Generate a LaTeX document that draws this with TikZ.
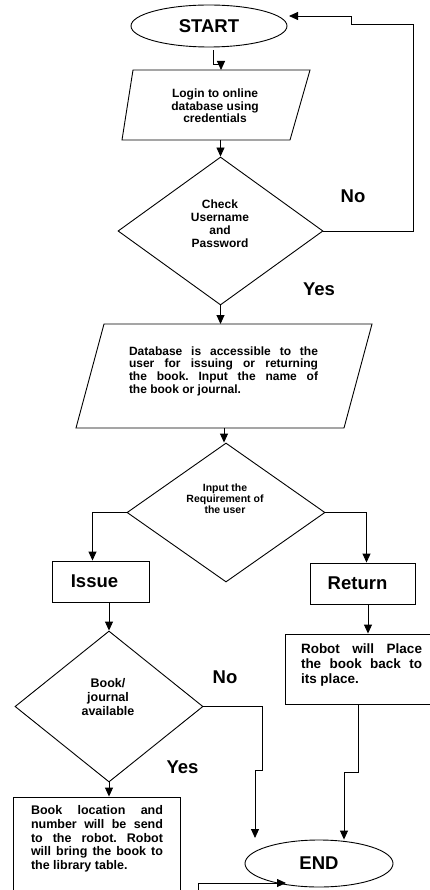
\documentclass[tikz,border=0pt]{standalone}
\usepackage{fontspec}
\setmainfont{Liberation Sans}
\usetikzlibrary{shapes.geometric,arrows.meta,calc}
\frenchspacing
\begin{document}
\begin{tikzpicture}[x=1pt,y=-1pt,
  line width=0.9pt,
  arr/.style={-{Triangle[length=9pt,width=8pt]}},
  term/.style={draw,ellipse,inner sep=0pt,font=\fontsize{18.5}{20}\selectfont\bfseries},
  dia/.style={draw,diamond,inner sep=0pt},
  box/.style={draw,rectangle,inner sep=0pt},
  big/.style={font=\fontsize{18.5}{20}\selectfont\bfseries},
  txt/.style={align=center,inner sep=0pt},
]
\path[use as bounding box,clip] (0,0) rectangle (430,890);

% nodes
\node[term,minimum width=156pt,minimum height=42pt] (start) at (209,26) {START};
\draw (133,70) -- (310,70) -- (290,140) -- (122,140) -- cycle;
\coordinate (loginN) at (221,70);
\coordinate (loginS) at (220.5,140);
\node[txt,font=\fontsize{12}{12.5}\selectfont\bfseries] (loginT) at (215,106) {Login to online\\database using\\credentials};
\node[dia,minimum width=205pt,minimum height=148pt] (check) at (220.5,231) {};
\node[txt,font=\fontsize{12}{13}\selectfont\bfseries] (checkT) at (220,224) {Check\\Username\\and\\Password};
\draw (104,324) -- (372,324) -- (344,428) -- (76,428) -- cycle;
\coordinate (dbN) at (220.5,324);
\coordinate (dbS) at (224,428);
\node[inner sep=0pt,text width=189pt,align=justify,font=\fontsize{12}{12.7}\selectfont\bfseries] (dbT) at (223.5,371)
  {Database is accessible to the\linebreak user for issuing or returning\linebreak the book. Input the name of\linebreak the book or journal.};
\node[dia,minimum width=198pt,minimum height=139pt] (req) at (226,512.5) {};
\node[txt,font=\fontsize{10.5}{11}\selectfont\bfseries] (reqT) at (225,499) {Input the\\Requirement of\\the user};
\node[box,big,minimum width=97pt,minimum height=41pt] (issue) at (100.5,581.5) {\hspace{-12pt}Issue};
\node[box,big,minimum width=105pt,minimum height=41pt] (ret) at (362.5,583.5) {\hspace{-10pt}Return};
\node[dia,minimum width=188pt,minimum height=151pt] (book) at (109,706.5) {};
\node[txt,font=\fontsize{12.5}{14}\selectfont\bfseries] (bookT) at (108,697) {Book/\\journal\\available};
\node[box,minimum width=147pt,minimum height=70pt] (robot) at (358.5,669) {};
\node[inner sep=0pt,text width=121pt,align=justify,font=\fontsize{13.5}{15}\selectfont\bfseries] (robotT) at (361.5,665)
  {Robot will Place\linebreak the book back to\linebreak its place.};
\node[box,minimum width=167pt,minimum height=106pt] (loc) at (96.5,850) {};
\node[inner sep=0pt,text width=132pt,align=justify,font=\fontsize{12.5}{13.7}\selectfont\bfseries] (locT) at (97,839)
  {Book location and\linebreak number will be send\linebreak to the robot. Robot\linebreak will bring the book to\linebreak the library table.};
\node[term,minimum width=148pt,minimum height=47pt] (end) at (319,863.5) {END};

% labels
\node[big,inner sep=0pt] (no1) at (353,196.5) {No};
\node[big,inner sep=0pt] (yes1) at (319,289) {Yes};
\node[big,inner sep=0pt] (no2) at (225,677.5) {No};
\node[big,inner sep=0pt] (yes2) at (182.5,767) {Yes};

% free ends
\coordinate (backin) at (289,16);
\coordinate (noin) at (255,838);
\coordinate (locout) at (198,895);
\coordinate (endin) at (286,883);

% connectors
\draw[arr] ($(start.south)+(4,3)$) -- ++(0,14) -| (loginN);
\draw[arr] (loginS) -- (check.north);
\draw[arr] (check.east) -| (413,24) -- (351,24) |- (backin);
\draw[arr] (check.south) -- (dbN);
\draw[arr] (dbS) -- (dbS |- req.north);
\draw[arr] (req.west) -| ($(issue.north)+(-8,0)$);
\draw[arr] (req.east) -| ($(ret.north)+(4,0)$);
\draw[arr] (issue.south -| book.north) -- (book.north);
\draw[arr] ([xshift=5.5pt]ret.south) -- ([xshift=5.5pt]ret.south |- robot.north);
\draw[arr] (robot.south) -- ++(0,68) -| ($(end.north)+(25,0)$);
\draw[arr] (book.east) -| (262,770) -- (255,770) -- (noin);
\draw[arr] (book.south) -- (book.south |- loc.north);
\draw[arr] (locout) |- (endin);
\end{tikzpicture}
\end{document}
